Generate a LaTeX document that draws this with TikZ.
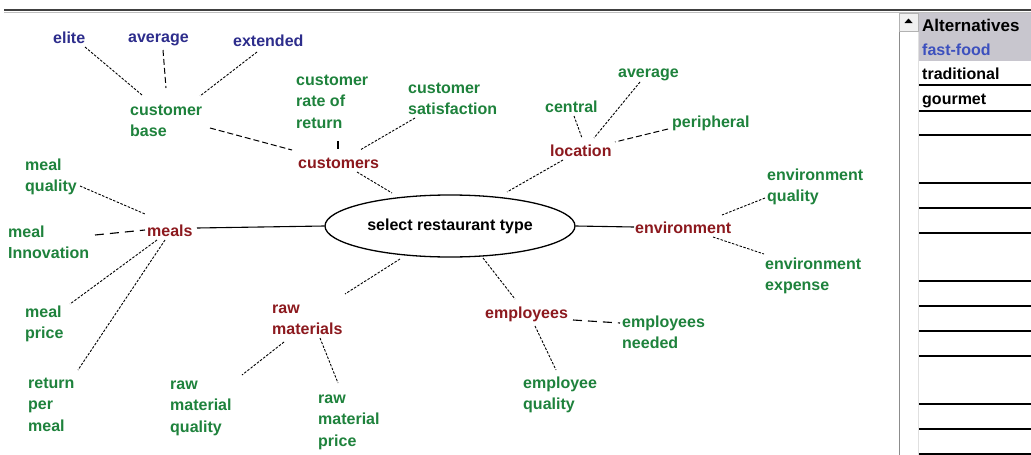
\documentclass[tikz,border=0pt]{standalone}
\usepackage{fontspec}
\setmainfont{Liberation Sans}
\usetikzlibrary{shapes.geometric}
\definecolor{cblue}{RGB}{45,45,140}
\definecolor{cgreen}{RGB}{30,130,60}
\definecolor{cred}{RGB}{140,25,30}
\definecolor{cfast}{RGB}{60,80,190}
\definecolor{hdrgray}{RGB}{200,198,206}
\begin{document}
\begin{tikzpicture}[x=1pt,y=-1pt,
  lbl/.style={inner sep=0pt, anchor=base west, align=left, font=\fontsize{16}{21.5}\selectfont\bfseries},
  tblue/.style={lbl, text=cblue},
  tgreen/.style={lbl, text=cgreen},
  tred/.style={lbl, text=cred},
  conn/.style={line width=0.9pt, dash pattern=on 2.5pt off 1.5pt},
  mdash/.style={line width=1pt, dash pattern=on 6pt off 3pt},
  ldash/.style={line width=1.1pt, dash pattern=on 9pt off 6pt},
  solidc/.style={line width=1.1pt},
  rowline/.style={line width=1.2pt, black},
  ptext/.style={inner sep=0pt, anchor=base west, font=\fontsize{16}{19}\selectfont\bfseries}]
\useasboundingbox (0,0) rectangle (1031,455);
\fill[white] (0,0) rectangle (1031,455);

% top rule
\draw[line width=2pt, black!75] (4,10) -- (1031,10);
\draw[line width=0.8pt, black!25] (4,12) -- (1031,12);

% right panel
\fill[hdrgray] (918,13) rectangle (1031,61);
\draw[line width=1pt, black!45] (899,13) -- (899,455);
\draw[line width=0.8pt, black!12] (918,31) -- (918,455);
\filldraw[fill=black!6, draw=black!30] (899,13) rectangle (918,31);
\fill[black] (904.5,23) -- (912.5,23) -- (908.5,18.5) -- cycle;
\foreach \yy in {85,111,135,183,208,233,281,306,331,356,404,429,454}
  \draw[rowline] (919,\yy) -- (1031,\yy);
\node[ptext, font=\fontsize{17}{20}\selectfont\bfseries] (alt) at (922,31) {Alternatives};
\node[ptext, text=cfast] (ff) at (922,55) {fast-food};
\node[ptext] (trad) at (922,79) {traditional};
\node[ptext] (gour) at (922,104) {gourmet};

% central node
\node[ellipse, draw, line width=1.3pt, minimum width=250pt, minimum height=62pt,
      inner sep=0pt, font=\fontsize{16}{19}\selectfont\bfseries] (root) at (450,226) {select restaurant type};

% labels (anchor = baseline of the last line)
\node[tblue] (elite) at (53,43) {elite};
\node[tblue] (avgB) at (128,42) {average};
\node[tblue] (ext) at (233,46) {extended};
\node[tgreen] (cbase) at (130,136.5) {customer\\base};
\node[tgreen] (crr) at (296,128) {customer\\rate of\\return};
\node[tgreen] (csat) at (408,114.5) {customer\\satisfaction};
\node[tred] (cust) at (298,168) {customers};
\node[tgreen] (central) at (545,112) {central};
\node[tred] (loc) at (550,156) {location};
\node[tgreen] (avgL) at (618,77) {average};
\node[tgreen] (peri) at (672,127) {peripheral};
\node[tgreen] (envq) at (767,201.5) {environment\\quality};
\node[tred] (env) at (635,233) {environment};
\node[tgreen] (enve) at (765,290.5) {environment\\expense};
\node[tred] (emp) at (485,318) {employees};
\node[tgreen] (empn) at (622,348.5) {employees\\needed};
\node[tgreen] (empq) at (523,409.5) {employee\\quality};
\node[tred] (raw) at (272,334.5) {raw\\materials};
\node[tgreen] (rmp) at (318,446) {raw\\material\\price};
\node[tgreen] (rmq) at (170,432) {raw\\material\\quality};
\node[tred] (meals) at (147,236) {meals};
\node[tgreen] (mq) at (25,191.5) {meal\\quality};
\node[tgreen] (mi) at (8,258.5) {meal\\Innovation};
\node[tgreen] (mp) at (25,338.5) {meal\\price};
\node[tgreen] (rpm) at (28,431) {return\\per\\meal};

% connectors
\draw[conn] ([shift={(32,4)}]elite.base west) -- ([shift={(12,-41.5)}]cbase.base west);
\draw[mdash] ([shift={(35,8)}]avgB.base west) -- ([shift={(36,-48.5)}]cbase.base west);
\draw[conn] ([shift={(24,6)}]ext.base west) -- ([shift={(70,-40.5)}]cbase.base west);
\draw[mdash] ([shift={(80,-8.5)}]cbase.base west) -- ([shift={(-6,-18)}]cust.base west);
\draw[solidc] ([shift={(42,13)}]crr.base west) -- ([shift={(40,-19)}]cust.base west);
\draw[conn] ([shift={(7,3.5)}]csat.base west) -- ([shift={(62,-18)}]cust.base west);
\draw[conn] ([shift={(59,4)}]cust.base west) -- ([shift={(-58,-33)}]root.center);
\draw[conn] ([shift={(29,4)}]central.base west) -- ([shift={(32,-18)}]loc.base west);
\draw[conn] ([shift={(22,5)}]avgL.base west) -- ([shift={(44,-18)}]loc.base west);
\draw[mdash] ([shift={(-4,2)}]peri.base west) -- ([shift={(65,-14)}]loc.base west);
\draw[conn] ([shift={(13,4)}]loc.base west) -- ([shift={(57,-34)}]root.center);
\draw[solidc] (root.east) -- ([shift={(-1,-6)}]env.base west);
\draw[conn] ([shift={(-2,-3.5)}]envq.base west) -- ([shift={(87,-18)}]env.base west);
\draw[conn] ([shift={(78,4)}]env.base west) -- ([shift={(-1,-36.5)}]enve.base west);
\draw[conn] ([shift={(33,32)}]root.center) -- ([shift={(30,-19)}]emp.base west);
\draw[ldash] ([shift={(88,2)}]emp.base west) -- ([shift={(-2,-25.5)}]empn.base west);
\draw[conn] ([shift={(50,8)}]emp.base west) -- ([shift={(33,-39.5)}]empq.base west);
\draw[conn] ([shift={(-50,33)}]root.center) -- ([shift={(73,-40.5)}]raw.base west);
\draw[conn] ([shift={(12,7.5)}]raw.base west) -- ([shift={(72,-57)}]rmq.base west);
\draw[conn] ([shift={(48,3.5)}]raw.base west) -- ([shift={(20,-63)}]rmp.base west);
\draw[solidc] ([shift={(50,-8)}]meals.base west) -- (root.west);
\draw[conn] ([shift={(55,-5.5)}]mq.base west) -- ([shift={(-2,-22)}]meals.base west);
\draw[ldash] ([shift={(87,-23.5)}]mi.base west) -- ([shift={(-2,-6)}]meals.base west);
\draw[conn] ([shift={(10,4)}]meals.base west) -- ([shift={(45,-34.5)}]mp.base west);
\draw[conn] ([shift={(18,4)}]meals.base west) -- ([shift={(50,-61)}]rpm.base west);
\end{tikzpicture}
\end{document}
